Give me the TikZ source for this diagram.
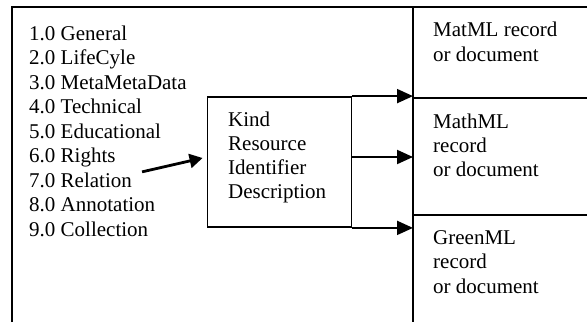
\documentclass[tikz,border=0pt]{standalone}
\usepackage{fontspec}
\setmainfont{Liberation Serif}
\usetikzlibrary{arrows.meta, positioning, calc}

\tikzset{
  frame/.style={line width=1.8pt},
  item/.style={anchor=base west, inner sep=0pt, font=\fontsize{21}{24}\selectfont},
  metabox/.style={draw, line width=1.8pt, minimum width=144pt, minimum height=130pt, inner sep=0pt},
  link/.style={-{Triangle[length=16pt,width=14pt]}, line width=2pt},
  pointer/.style={-{Triangle[length=13pt,width=14pt]}, line width=2.8pt},
}

\begin{document}
\begin{tikzpicture}[x=1pt, y=-1pt]
  \useasboundingbox (0,0) rectangle (587,322);
  % Frame
  \draw[frame] (12,322) -- (12,7) -- (587,7);
  \draw[frame] (413,7) -- (413,322);
  \draw[frame] (413,98) -- (587,98);
  \draw[frame] (413,215) -- (587,215);
  % Elements
  \node[item] (gen) at (29,40) {1.0 General};
  \node[item] (life) at (29,64.5) {2.0 LifeCyle};
  \node[item] (mmd) at (29,89) {3.0 MetaMetaData};
  \node[item] (tech) at (29,113.5) {4.0 Technical};
  \node[item] (edu) at (29,138) {5.0 Educational};
  \node[item] (rights) at (29,162.5) {6.0 Rights};
  \node[item] (rel) at (29,187) {7.0 Relation};
  \node[item] (ann) at (29,211.5) {8.0 Annotation};
  \node[item] (coll) at (29,236) {9.0 Collection};
  % Metadata box
  \node[metabox] (meta) at (279.5,162) {};
  \node[item] (kind) at (228,126) {Kind};
  \node[item] (res) at (228,150) {Resource};
  \node[item] (ident) at (228,174) {Identifier};
  \node[item] (descr) at (228,198) {Description};
  % Records
  \node[item] (matml) at (433,36) {MatML record};
  \node[item] (matdoc) at (433,61) {or document};
  \node[item] (mathml) at (433,128) {MathML};
  \node[item] (mathrec) at (433,152) {record};
  \node[item] (mathdoc) at (433,176) {or document};
  \node[item] (green) at (433,244) {GreenML};
  \node[item] (greenrec) at (433,268) {record};
  \node[item] (greendoc) at (433,293) {or document};
  % Arrows
  \coordinate (rec) at (413,0);
  \coordinate (mid) at ($(meta.east)+(0,-5)$);
  \draw[link] (meta.north east) -- (meta.north east -| rec);
  \draw[link] (mid) -- (mid -| rec);
  \draw[link] (meta.south east) -- (meta.south east -| rec);
  \draw[pointer] ($(rel.east)+(10,-8)$) -- ($(meta.west)+(-4,-4)$);
\end{tikzpicture}
\end{document}
